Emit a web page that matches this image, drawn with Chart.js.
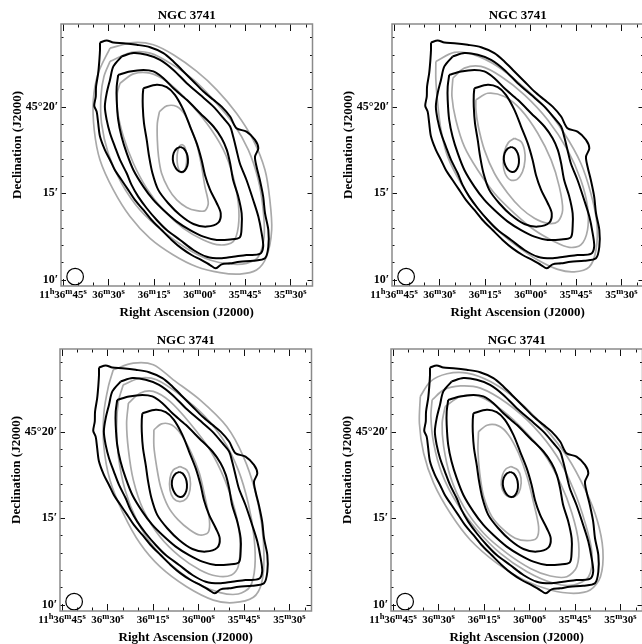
<!DOCTYPE html>
<html>
<head>
<meta charset="utf-8">
<script src="https://cdn.jsdelivr.net/npm/chart.js@4.4.1/dist/chart.umd.min.js"></script>
<style>
html, body { margin: 0; padding: 0; background: #fff; overflow: hidden; }
canvas { position: absolute; }
</style>
</head>
<body>
<canvas id="p1" width="331" height="325" style="left:0px;top:0px"></canvas>
<canvas id="p2" width="331" height="325" style="left:331px;top:0px"></canvas>
<canvas id="p3" width="331" height="325" style="left:-1px;top:325px"></canvas>
<canvas id="p4" width="331" height="325" style="left:330px;top:325px"></canvas>
<script>
// NGC 3741 HI contours: observed (black) vs four models (grey)
// x = RA seconds past 11h35m00s, y = Dec arcmin past 45d00m

const raTicks = [105, 90, 75, 60, 45, 30];
const raTickLabels = ['11h36m45s', '36m30s', '36m15s', '36m00s', '35m45s', '35m30s'];
const decTicks = [10, 15, 20];
const decTickLabels = ['10′', '15′', '45°20′'];

const beam = [[101.0, 10.18]];

// observed contours, outermost first
const obsLevel1 = [[92.8,23.70],[90.6,23.82],[88.4,23.70],[85.1,23.66],[80.7,23.57],[76.3,23.43],[71.9,23.09],[68.6,22.61],[65.3,22.03],[62.0,21.45],[58.7,20.87],[55.4,20.39],[52.7,20.00],[49.9,19.43],[47.8,18.75],[44.5,18.56],[41.7,18.08],[40.6,17.59],[41.7,17.11],[41.2,16.54],[40.1,15.76],[39.0,14.80],[38.4,13.84],[37.3,12.87],[37.3,11.91],[38.4,11.24],[42.3,11.10],[46.7,11.04],[49.9,10.95],[52.7,10.89],[54.6,10.66],[56.5,10.85],[59.3,11.14],[62.6,11.43],[65.9,11.81],[69.2,12.30],[72.5,12.87],[75.8,13.45],[78.5,14.03],[81.3,14.61],[83.5,15.19],[85.7,15.76],[87.9,16.34],[89.5,16.92],[91.2,17.50],[92.8,18.27],[93.4,19.04],[93.9,19.71],[94.7,20.04],[94.2,20.58],[94.1,21.16],[93.4,21.93],[93.0,22.70],[92.8,23.28]];
const obsLevel2 = [[85.7,22.89],[81.8,23.09],[77.4,22.99],[73.0,22.70],[68.6,22.12],[64.2,21.35],[59.8,20.68],[55.4,20.00],[52.1,19.33],[49.9,18.85],[48.9,18.27],[47.8,17.50],[46.7,16.73],[44.5,15.76],[42.3,14.61],[40.6,13.65],[39.5,12.68],[39.0,11.91],[40.1,11.49],[44.5,11.43],[48.9,11.33],[53.2,11.24],[57.6,11.33],[62.0,11.72],[66.4,12.30],[70.8,12.87],[74.1,13.45],[77.4,14.13],[80.2,14.80],[82.4,15.48],[84.0,16.15],[86.2,16.92],[87.9,17.69],[89.5,18.46],[90.6,19.23],[91.2,20.00],[90.6,20.77],[89.5,21.55],[88.4,22.32]];
const obsLevel3 = [[86.8,21.83],[82.9,22.03],[78.5,22.12],[75.2,22.03],[71.9,21.64],[68.6,21.06],[64.2,20.39],[59.8,19.62],[55.4,18.85],[52.7,18.17],[51.0,17.50],[49.9,16.73],[48.9,15.76],[47.2,14.80],[46.1,13.84],[46.1,13.07],[46.7,12.45],[49.9,12.33],[54.3,12.30],[58.7,12.49],[63.1,12.87],[67.5,13.36],[71.9,14.03],[75.2,14.61],[78.5,15.38],[81.8,16.34],[84.0,17.31],[85.7,18.27],[86.8,19.23],[87.3,20.39],[87.3,21.16]];
const obsLevel4 = [[78.5,21.06],[74.1,21.26],[70.8,21.12],[68.1,20.68],[65.3,19.81],[63.1,18.85],[60.9,17.88],[59.3,16.92],[58.2,16.05],[56.5,15.19],[54.3,14.42],[53.0,13.84],[53.8,13.30],[57.6,13.07],[62.0,13.22],[66.4,13.74],[70.3,14.42],[73.6,15.19],[75.5,16.15],[76.6,17.11],[77.4,18.08],[78.3,19.04],[78.7,20.00],[78.7,20.68]];
const obsLevel5 = [[66.3,17.67],[65.2,17.58],[64.2,17.30],[63.8,16.95],[64.0,16.58],[64.9,16.30],[66.1,16.23],[67.3,16.33],[68.3,16.60],[68.8,16.95],[68.5,17.32],[67.5,17.58]];
const obsContours = [obsLevel1, obsLevel2, obsLevel3, obsLevel4, obsLevel5];

// model contours, one list per panel
const modelA = [
  [[89.5,23.38],[81.8,23.70],[75.2,23.57],[68.6,22.99],[60.9,22.03],[54.3,20.97],[47.8,19.62],[42.3,18.08],[38.4,16.34],[36.8,14.61],[36.2,12.87],[37.9,11.33],[41.2,10.56],[46.7,10.33],[53.2,10.41],[60.9,10.75],[68.6,11.43],[76.3,12.39],[82.9,13.65],[88.4,15.19],[92.8,16.92],[94.7,18.65],[95.0,20.39],[93.4,21.93]],
  [[89.5,22.61],[82.4,23.13],[76.3,23.09],[69.7,22.51],[62.0,21.55],[55.4,20.39],[48.9,19.04],[43.9,17.50],[40.6,15.76],[39.0,14.03],[38.7,12.49],[40.6,11.33],[44.5,10.95],[49.9,10.91],[56.5,11.14],[64.2,11.81],[71.9,12.78],[79.6,14.03],[85.7,15.57],[90.1,17.31],[92.3,19.04],[92.5,20.58],[91.5,21.74]],
  [[86.2,21.35],[81.8,21.89],[76.3,21.93],[70.8,21.45],[64.2,20.39],[57.6,19.04],[52.1,17.50],[48.9,15.96],[47.2,14.42],[47.2,13.07],[48.9,12.20],[53.2,12.01],[58.7,12.30],[65.3,12.97],[71.9,14.03],[77.4,15.28],[81.8,16.73],[85.1,18.27],[87.1,19.81],[87.1,20.77]],
  [[73.2,19.71],[70.8,20.04],[67.5,20.00],[64.8,19.52],[62.6,18.65],[60.7,17.69],[59.3,16.54],[58.2,15.38],[57.1,14.42],[58.2,13.99],[60.9,13.99],[64.2,14.18],[67.5,14.61],[70.3,15.28],[72.5,16.15],[73.5,17.11],[73.9,18.08],[73.9,19.04]],
  [[65.8,17.82],[65.0,17.71],[64.4,17.41],[64.2,17.00],[64.4,16.59],[65.0,16.29],[65.8,16.18],[66.6,16.29],[67.2,16.59],[67.4,17.00],[67.2,17.41],[66.6,17.71]]
];
const modelB = [
  [[91.2,22.61],[85.1,23.13],[78.5,22.99],[70.8,22.32],[63.1,21.26],[55.4,20.00],[48.9,18.46],[43.4,16.73],[40.1,14.99],[38.1,13.26],[38.4,11.72],[40.6,10.75],[45.6,10.46],[51.0,10.60],[57.6,11.14],[64.2,11.91],[70.8,12.87],[77.4,14.13],[82.9,15.57],[87.3,17.11],[89.5,18.65],[90.6,20.20],[91.2,21.55]],
  [[85.6,21.64],[81.8,22.22],[76.3,22.32],[69.7,21.74],[62.0,20.68],[54.3,19.23],[47.8,17.50],[43.4,15.76],[41.2,14.22],[41.2,12.87],[43.4,12.01],[47.2,11.87],[52.1,12.20],[58.7,12.87],[65.3,13.84],[71.9,15.00],[77.4,16.34],[81.8,17.69],[84.6,19.23],[85.9,20.58]],
  [[78.0,20.39],[74.1,20.77],[68.6,20.58],[63.1,19.81],[57.6,18.46],[53.2,16.92],[50.5,15.38],[49.4,14.03],[51.0,13.36],[54.3,13.26],[58.7,13.55],[63.1,14.13],[67.5,15.00],[71.9,16.15],[75.2,17.50],[77.2,18.85],[78.0,19.81]],
  [[65.3,18.17],[63.1,17.98],[62.0,17.50],[61.8,16.92],[62.6,16.25],[64.4,15.80],[66.6,15.76],[68.4,16.15],[69.0,16.73],[68.6,17.40],[67.3,17.92]]
];
const modelC = [
  [[88.1,23.57],[81.5,23.95],[74.9,23.86],[68.3,22.99],[59.5,21.83],[50.7,20.29],[45.2,18.56],[41.4,16.63],[39.2,14.70],[38.4,12.78],[39.2,11.24],[41.9,10.43],[48.5,10.12],[55.1,10.27],[63.9,11.04],[72.7,12.20],[79.3,13.55],[84.8,15.28],[89.2,17.21],[91.2,19.14],[91.2,21.06],[89.7,22.61]],
  [[84.8,22.70],[79.3,23.09],[73.8,22.99],[66.1,22.12],[58.4,20.97],[51.8,19.52],[46.9,17.79],[43.6,15.86],[41.7,13.93],[41.4,12.20],[43.0,11.04],[46.9,10.62],[52.9,10.70],[60.6,11.24],[68.3,12.20],[74.9,13.36],[80.4,14.90],[84.2,16.63],[86.4,18.56],[87.0,20.29],[86.4,21.74]],
  [[83.1,21.64],[79.3,22.22],[74.9,22.32],[69.4,21.74],[62.8,20.48],[56.2,18.94],[51.3,17.21],[48.0,15.48],[46.3,13.74],[46.9,12.20],[49.1,11.72],[54.0,11.66],[59.5,12.01],[66.1,12.78],[72.7,13.93],[78.2,15.48],[81.5,17.21],[83.1,18.94],[83.7,20.48]],
  [[74.7,20.10],[72.2,20.45],[68.9,20.39],[65.6,19.81],[62.3,18.75],[59.7,17.59],[57.9,16.25],[56.4,14.90],[56.8,14.18],[59.5,14.03],[62.8,14.32],[66.7,14.90],[70.0,15.67],[72.5,16.82],[73.8,17.98],[74.7,19.14]],
  [[66.1,17.98],[63.9,17.79],[62.8,17.31],[62.8,16.63],[63.9,16.15],[66.1,15.96],[68.3,16.15],[69.4,16.63],[69.4,17.31],[68.3,17.79]]
];
const modelD = [
  [[96.0,22.03],[92.7,22.89],[87.2,23.34],[80.6,23.38],[72.9,22.89],[64.1,21.83],[55.3,20.29],[47.6,18.56],[41.6,16.63],[37.7,14.90],[35.8,13.16],[36.6,11.62],[40.0,10.85],[45.5,10.66],[53.1,10.85],[61.9,11.43],[70.7,12.39],[79.5,13.74],[86.1,15.28],[91.6,17.02],[94.9,18.75],[96.3,20.48]],
  [[92.1,21.83],[88.3,22.41],[82.8,22.64],[76.2,22.51],[67.4,21.64],[58.6,20.29],[50.9,18.56],[45.4,16.63],[41.6,14.70],[39.4,12.97],[40.5,11.62],[45.5,11.14],[52.0,11.24],[60.8,11.91],[69.6,12.97],[77.3,14.32],[83.9,15.86],[88.9,17.59],[91.6,19.33],[92.5,20.87]],
  [[87.8,21.45],[82.8,22.03],[77.3,22.07],[70.7,21.45],[63.0,20.29],[55.3,18.75],[49.8,17.02],[46.0,15.28],[43.8,13.55],[44.4,12.20],[47.7,11.62],[53.1,11.66],[59.7,12.10],[67.4,12.97],[75.1,14.13],[81.7,15.67],[86.1,17.40],[88.3,19.14],[88.8,20.48]],
  [[76.8,20.00],[74.0,20.37],[70.2,20.33],[66.9,19.81],[63.6,18.75],[60.8,17.40],[58.6,15.86],[57.0,14.51],[57.7,13.84],[60.8,13.70],[64.7,13.84],[68.5,14.32],[72.4,15.09],[75.1,16.25],[76.4,17.59],[77.0,18.94]],
  [[66.1,17.98],[63.9,17.79],[62.8,17.31],[63.0,16.73],[64.1,16.34],[66.3,16.21],[68.3,16.44],[69.3,16.92],[68.9,17.50],[67.8,17.84]]
];

const FONT = "'Liberation Serif', serif";

// close a contour and turn it into a line dataset
function contourDataset(contour, color, width) {
  const pts = contour.concat([contour[0]]).map(p => ({x: p[0], y: p[1]}));
  return {
    data: pts,
    showLine: true,
    borderColor: color,
    borderWidth: width,
    pointRadius: 0,
    tension: 0.3,
    fill: false
  };
}

// RA label with raised h/m/s
function drawRaLabel(ctx, text, cx, baseY) {
  const parts = text.match(/\d+|[hms]/g);
  const mainFont = 'bold 11px ' + FONT;
  const supFont = 'bold 8.5px ' + FONT;
  let w = 0;
  parts.forEach(p => {
    ctx.font = /\d/.test(p) ? mainFont : supFont;
    w += ctx.measureText(p).width;
  });
  let x = cx - w / 2;
  parts.forEach(p => {
    const sup = !/\d/.test(p);
    ctx.font = sup ? supFont : mainFont;
    ctx.fillText(p, x, sup ? baseY - 3.5 : baseY);
    x += ctx.measureText(p).width;
  });
}

// frame, inward ticks, RA labels and the declination label
const framePlugin = {
  id: 'frame',
  afterDatasetsDraw(chart) {
    const { ctx, chartArea: a, scales } = chart;
    const xs = scales.x, ys = scales.y;
    ctx.save();
    ctx.strokeStyle = '#111';
    ctx.lineWidth = 1;
    ctx.beginPath();
    xs.ticks.forEach(t => {
      const px = Math.round(xs.getPixelForValue(t.value)) + 0.5;
      const len = t.value % 15 === 0 ? 7 : 3.5;
      ctx.moveTo(px, a.top); ctx.lineTo(px, a.top + len);
      ctx.moveTo(px, a.bottom); ctx.lineTo(px, a.bottom - len);
    });
    ys.ticks.forEach(t => {
      const py = Math.round(ys.getPixelForValue(t.value)) + 0.5;
      const len = t.value % 5 === 0 ? 5 : 2.5;
      ctx.moveTo(a.left, py); ctx.lineTo(a.left + len, py);
      ctx.moveTo(a.right, py); ctx.lineTo(a.right - len, py);
    });
    ctx.stroke();
    ctx.strokeStyle = '#8a8a8a';
    ctx.lineWidth = 1.5;
    ctx.strokeRect(a.left, a.top, a.right - a.left, a.bottom - a.top);

    ctx.fillStyle = '#000';
    ctx.textAlign = 'left';
    ctx.textBaseline = 'alphabetic';
    raTicks.forEach((v, i) => {
      drawRaLabel(ctx, raTickLabels[i], xs.getPixelForValue(v), a.bottom + 11.5);
    });

    ctx.translate(17.5, 145);
    ctx.rotate(-Math.PI / 2);
    ctx.font = 'bold 13px ' + FONT;
    ctx.textAlign = 'center';
    ctx.textBaseline = 'middle';
    ctx.fillText('Declination (J2000)', 0, 0);
    ctx.restore();
  }
};

function makePanel(id, models) {
  const datasets = [];
  obsContours.forEach(c => datasets.push(contourDataset(c, '#000000', 2)));
  models.forEach(c => datasets.push(contourDataset(c, '#a9a9a9', 1.7)));
  datasets.push({
    data: beam.map(p => ({x: p[0], y: p[1]})),
    pointRadius: 8.3,
    pointBorderWidth: 1.2,
    pointBorderColor: '#000',
    pointBackgroundColor: 'rgba(0,0,0,0)'
  });

  new Chart(document.getElementById(id), {
    type: 'scatter',
    data: { datasets: datasets },
    options: {
      responsive: false,
      animation: false,
      layout: { padding: { top: 0, right: 18.5, bottom: 0, left: 0 } },
      plugins: {
        legend: { display: false },
        tooltip: { enabled: false },
        title: {
          display: true,
          text: 'NGC 3741',
          fullSize: false,
          color: '#000',
          font: { family: FONT, size: 13, weight: 'bold', lineHeight: 1.2 },
          padding: { top: 8, bottom: 0.4 }
        }
      },
      scales: {
        x: {
          type: 'linear',
          reverse: true,
          min: 22.74,
          max: 105.66,
          grid: { display: false, drawTicks: false },
          border: { display: false },
          ticks: {
            display: false,
            stepSize: 5,
            includeBounds: false,
            autoSkip: false
          },
          title: {
            display: true,
            text: 'Right Ascension (J2000)',
            color: '#000',
            font: { family: FONT, size: 13, weight: 'bold', lineHeight: 1.2 },
            padding: { top: 0, bottom: 5 }
          },
          afterFit: s => { s.height = 39; }
        },
        y: {
          type: 'linear',
          min: 9.64,
          max: 24.77,
          grid: { display: false, drawTicks: false },
          border: { display: false },
          ticks: {
            stepSize: 1,
            includeBounds: false,
            autoSkip: false,
            padding: 3,
            color: '#000',
            font: { family: FONT, size: 12, weight: 'bold' },
            callback: v => {
              const i = decTicks.indexOf(v);
              return i >= 0 ? decTickLabels[i] : '';
            }
          },
          afterFit: s => { s.width = 61; }
        }
      }
    },
    plugins: [framePlugin]
  });
}

makePanel('p1', modelA);
makePanel('p2', modelB);
makePanel('p3', modelC);
makePanel('p4', modelD);
</script>
</body>
</html>
